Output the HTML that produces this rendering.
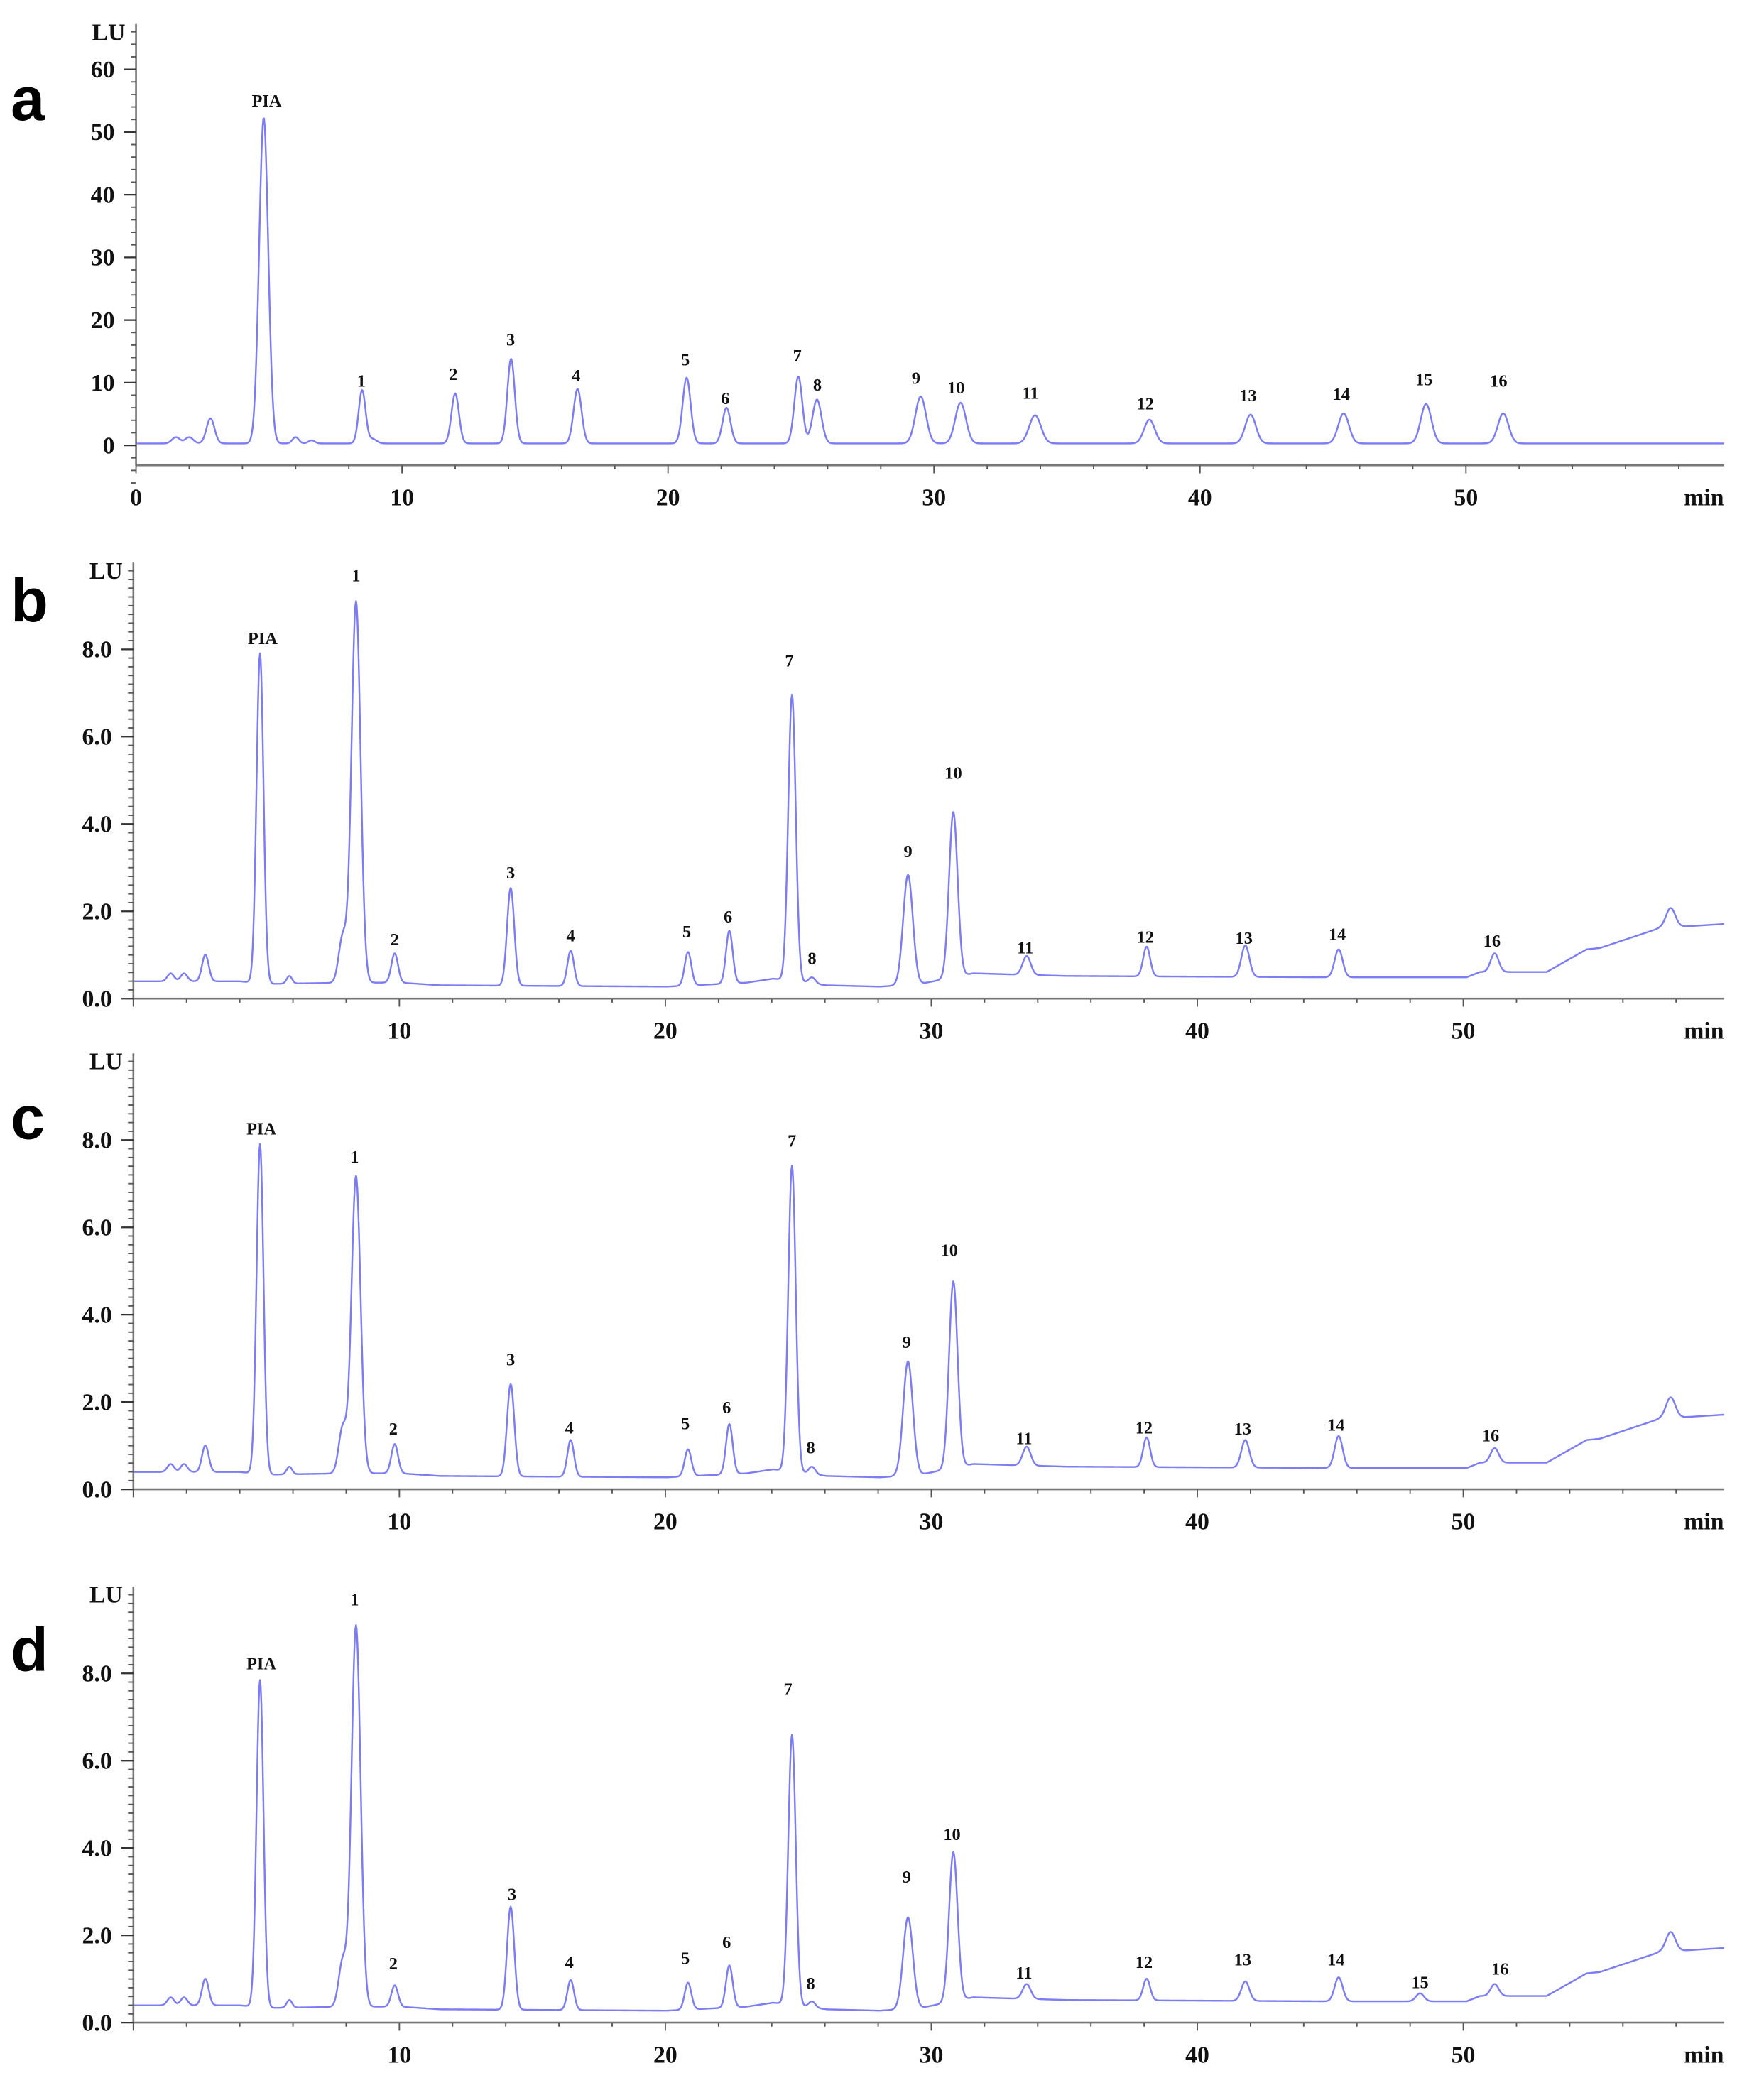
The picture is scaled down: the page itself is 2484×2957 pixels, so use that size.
<!DOCTYPE html>
<html><head><meta charset="utf-8"><style>
html,body{margin:0;padding:0;background:#fff;}
svg{display:block;}
text{font-family:"Liberation Serif",serif;font-weight:bold;fill:#111;}
.pl{font-family:"Liberation Sans",sans-serif;font-weight:bold;fill:#000;}
</style></head><body>
<svg id="s" width="2484" height="2957" viewBox="0 0 1323 1575" xmlns="http://www.w3.org/2000/svg"></svg>
<script>
const S=document.getElementById('s');const NS='http://www.w3.org/2000/svg';
function el(t,a,txt){const e=document.createElementNS(NS,t);for(const k in a)e.setAttribute(k,a[k]);if(txt!==undefined)e.textContent=txt;S.appendChild(e);return e;}
function gauss(x,peaks){let v=0;for(const p of peaks){const d=(x-p[0])/p[2];v+=p[1]*Math.exp(-0.5*d*d);}return v;}
function interp(pts,x){if(x<=pts[0][0])return pts[0][1];for(let i=1;i<pts.length;i++){if(x<=pts[i][0]){const a=pts[i-1],b=pts[i];return a[1]+(b[1]-a[1])*(x-a[0])/(b[0]-a[0]);}}return pts[pts.length-1][1];}
function trace(base,peaks,x0,x1){let d='';for(let x=x0;x<=x1;x+=0.5){const y=interp(base,x)-gauss(x,peaks);d+=(d?'L':'M')+x.toFixed(1)+' '+y.toFixed(2);}
el('path',{d:d,fill:'none',stroke:'#7c7cf4','stroke-width':1.3,'stroke-linejoin':'round'});}
function axes(o){
 el('line',{x1:o.ax,y1:o.top,x2:o.ax,y2:o.xy,stroke:'#777','stroke-width':1.4});
 el('line',{x1:o.ax,y1:o.xy,x2:1293,y2:o.xy,stroke:'#777','stroke-width':1.4});
 for(let v=o.ymin;v<=o.ymaxTick+1e-9;v+=o.minor){const y=o.y0-v*o.sc;if(y<o.top)break;el('line',{x1:o.ax-4,y1:y,x2:o.ax,y2:y,stroke:'#555','stroke-width':1});}
 for(const v of o.labels){const y=o.y0-v*o.sc;el('line',{x1:o.ax-9,y1:y,x2:o.ax,y2:y,stroke:'#333','stroke-width':1.2});
  el('text',{x:o.ax-16,y:y+6,'text-anchor':'end','font-size':18},o.fmt(v));}
 el('text',{x:o.ax-8,y:o.top+12,'text-anchor':'end','font-size':18},'LU');
 for(let t=0;t<=59;t+=2){const x=o.ax+t*o.xs;el('line',{x1:x,y1:o.xy,x2:x,y2:o.xy+(t%10==0?6:3),stroke:'#555','stroke-width':1});}
 for(let t=(o.zero?0:10);t<=50;t+=10){el('text',{x:o.ax+t*o.xs,y:o.xy+30,'text-anchor':'middle','font-size':18},String(t));}
 el('text',{x:1293,y:o.xy+30,'text-anchor':'end','font-size':18},'min');
 el('text',{x:8,y:o.ly,'class':'pl','font-size':46},o.letter);
 for(const l of o.pl){el('text',{x:l[0],y:l[1]+5,'text-anchor':'middle','font-size':13},l[2]);}
}
(function(){
 const ax=102,xs=19.95,y0=334,sc=4.7;
 const tp=[[1.5,1,0.15],[2.0,1,0.15],[2.8,4,0.15],[4.8,52,0.17],[6.0,1,0.12],[6.6,0.5,0.12],[8.5,8.5,0.13],[8.9,0.7,0.15],[12.0,8,0.14],[14.1,13.5,0.14],[16.6,8.7,0.15],[20.7,10.5,0.15],[22.2,5.7,0.15],[24.9,10.7,0.15],[25.6,7,0.17],[29.5,7.5,0.2],[31.0,6.5,0.2],[33.8,4.5,0.22],[38.1,3.8,0.2],[41.9,4.6,0.2],[45.4,4.8,0.2],[48.5,6.3,0.2],[51.4,4.8,0.2]];
 const peaks=tp.map(p=>[ax+p[0]*xs,p[1]*sc,p[2]*xs]);
 trace([[ax,y0-0.3*sc],[1293,y0-0.3*sc]],peaks,ax,1293);
 axes({ax:ax,top:18,xy:349,y0:y0,sc:sc,ymin:-6,ymaxTick:68,minor:2,labels:[0,10,20,30,40,50,60],fmt:v=>String(v),xs:xs,zero:true,letter:'a',ly:90,
 pl:[[200,75,'PIA'],[271,285,'1'],[340,280,'2'],[383,254,'3'],[432,281,'4'],[514,269,'5'],[544,298,'6'],[598,266,'7'],[613,288,'8'],[687,283,'9'],[717,290,'10'],[773,294,'11'],[859,302,'12'],[936,296,'13'],[1006,295,'14'],[1068,284,'15'],[1124,285,'16']]});
})();
const baseB=[[100,736],[180,736],[200,738],[260,737],[300,737],[330,739],[500,740],[560,737],[580,734],[620,739],[660,740],[690,738],[730,730],[800,732],[1000,733],[1100,733],[1110,729],[1160,729],[1190,712],[1200,711],[1245,696],[1293,693]];
function panel(off,heights,labels,letter,ly,extra){
 const ax=100,xs=19.95,y0=749+off,sc=32.75;
 const pos=[[128,2.5],[138,2.5],[154,2.5],[195,2.6],[217,2],[257,3],[267,3.4],[296,2.5],[383,2.7],[428,2.5],[516,2.5],[547,2.5],[594,2.8],[609,2.5],[681,3.6],[715,3.2],[770,3],[860,2.6],[934,3],[1004,3],[1121,3],[1253,3.5]];
 const peaks=[];const base=baseB.map(p=>[p[0],p[1]+off]);
 for(let i=0;i<pos.length;i++){const x=pos[i][0];const h=interp(base,x)-heights[i];peaks.push([x,Math.max(h,0),pos[i][1]]);}
 if(extra)for(const e of extra){peaks.push([e[0],e[1],e[2]]);}
 trace(base,peaks,ax,1293);
 axes({ax:ax,top:422+off,xy:y0,y0:y0,sc:sc,ymin:0,ymaxTick:9.8,minor:0.2,labels:[0,2,4,6,8],fmt:v=>v.toFixed(1),xs:xs,zero:false,letter:letter,ly:ly,pl:labels});
}
panel(0,[730,730,716,490,732,703,451,715,666,713,714,698,521,733,656,609,717,710,709,712,715,681],
 [[197,478,'PIA'],[267,431,'1'],[296,704,'2'],[383,654,'3'],[428,701,'4'],[515,698,'5'],[546,687,'6'],[592,495,'7'],[609,718,'8'],[681,638,'9'],[715,579,'10'],[769,710,'11'],[859,702,'12'],[933,703,'13'],[1003,700,'14'],[1119,705,'16']],'b',466);
panel(368,[1098,1098,1084,858,1100,1071,882,1083,1038,1080,1087,1068,874,1100,1021,961,1085,1078,1080,1077,1086,1048],
 [[196,846,'PIA'],[266,867,'1'],[295,1071,'2'],[383,1019,'3'],[427,1070,'4'],[514,1067,'5'],[545,1055,'6'],[594,855,'7'],[608,1085,'8'],[680,1006,'9'],[712,937,'10'],[768,1078,'11'],[858,1070,'12'],[932,1071,'13'],[1002,1068,'14'],[1118,1076,'16']],'c',854);
panel(768,[1498,1498,1484,1260,1500,1471,1219,1489,1430,1485,1487,1474,1301,1501,1438,1389,1488,1484,1486,1483,1488,1449],
 [[196,1247,'PIA'],[266,1199,'1'],[295,1472,'2'],[384,1420,'3'],[427,1471,'4'],[514,1468,'5'],[545,1456,'6'],[591,1266,'7'],[608,1487,'8'],[680,1407,'9'],[714,1375,'10'],[768,1479,'11'],[858,1471,'12'],[932,1469,'13'],[1002,1469,'14'],[1065,1486,'15'],[1125,1476,'16']],'d',1253,[[1065,6,3]]);
</script>
</body></html>
